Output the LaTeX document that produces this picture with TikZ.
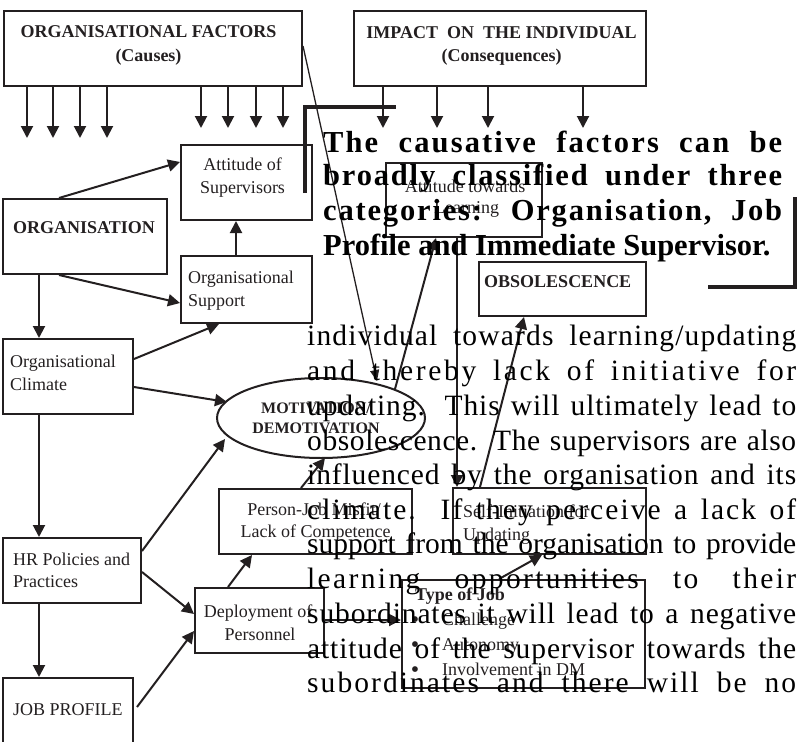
\documentclass[tikz,border=0pt]{standalone}
\usepackage{fontspec}
\setmainfont{Liberation Serif}
\usetikzlibrary{arrows.meta,calc,shapes.geometric}
\definecolor{ink}{HTML}{231F20}
\newcommand{\jl}[2]{\makebox[489pt][s]{\addfontfeature{LetterSpace=#1}#2}}
\newcommand{\jb}[2]{\makebox[459pt][s]{\addfontfeature{LetterSpace=#1}#2}}
\tikzset{
  box/.style={draw=ink, line width=2pt, rectangle, inner sep=0pt},
  arr/.style={draw=ink, line width=2pt, -{Triangle[length=12pt,width=12pt]}},
  thinarr/.style={draw=ink, line width=1.3pt, -{Triangle[length=11pt,width=9pt]}},
  lbl/.style={font=\fontsize{18}{20}\selectfont, inner sep=0pt, text=ink},
  blbl/.style={font=\bfseries\fontsize{18}{20}\selectfont, inner sep=0pt, text=ink},
  bul/.style={font=\fontsize{24}{24}\selectfont, inner sep=0pt, text=ink, anchor=base},
  thickline/.style={draw=ink, line width=4pt},
  bodytxt/.style={anchor=base west, inner sep=0pt, font=\fontsize{29.5}{30}\selectfont},
  boldtxt/.style={anchor=base west, inner sep=0pt, font=\bfseries\fontsize{30.5}{31}\selectfont},
}
\begin{document}
\begin{tikzpicture}[x=1pt,y=-1pt]
\useasboundingbox (0,0) rectangle (799,741);
% boxes
\node[box, minimum width=298pt, minimum height=75pt] (of) at (153,48.5) {};
\node[box, minimum width=292pt, minimum height=75pt] (imp) at (500,48.5) {};
\node[box, minimum width=164pt, minimum height=75pt] (org) at (85,236.5) {};
\node[box, minimum width=131pt, minimum height=75pt] (atsup) at (246.5,182.5) {};
\node[box, minimum width=131pt, minimum height=67pt] (osup) at (246.5,289.5) {};
\node[box, minimum width=130pt, minimum height=75pt] (oclim) at (68,376.5) {};
\node[box, minimum width=138pt, minimum height=65pt] (hr) at (72,570.5) {};
\node[box, minimum width=130pt, minimum height=102pt] (jp) at (68,729) {};
\node[box, minimum width=129pt, minimum height=65pt] (depl) at (259.5,620.5) {};
\node[box, minimum width=193pt, minimum height=65pt] (pjm) at (315.5,521.5) {};
\node[box, minimum width=156pt, minimum height=74pt] (atl) at (464,200) {};
\node[box, minimum width=167pt, minimum height=54pt] (obs) at (562.5,289) {};
\node[box, minimum width=193pt, minimum height=66pt] (sif) at (549.5,521) {};
\node[box, minimum width=243pt, minimum height=108pt] (toj) at (523.5,634) {};
\node[draw=ink, line width=2pt, ellipse, minimum width=208pt, minimum height=80pt, inner sep=0pt] (ell) at (321,418) {};
% labels
\node[blbl, anchor=base] (of-t1) at (148.5,38) {ORGANISATIONAL FACTORS};
\node[blbl, anchor=base] (of-t2) at (148.5,62) {(Causes)};
\node[blbl, anchor=base] (imp-t1) at (501.5,39) {IMPACT\ \ ON\ \ THE INDIVIDUAL};
\node[blbl, anchor=base] (imp-t2) at (501.5,62) {(Consequences)};
\node[blbl, anchor=base west] (org-t) at (13,233) {ORGANISATION};
\node[lbl, anchor=base] (atsup-t1) at (242.5,170) {Attitude of};
\node[lbl, anchor=base] (atsup-t2) at (242.5,193) {Supervisors};
\node[lbl, anchor=base west] (osup-t1) at (188,283) {Organisational};
\node[lbl, anchor=base west] (osup-t2) at (188,306) {Support};
\node[lbl, anchor=base west] (oclim-t1) at (10,367) {Organisational};
\node[lbl, anchor=base west] (oclim-t2) at (10,390) {Climate};
\node[lbl, anchor=base west] (hr-t1) at (13,565) {HR Policies and};
\node[lbl, anchor=base west] (hr-t2) at (13,587) {Practices};
\node[lbl, anchor=base west] (jp-t) at (13,715) {JOB PROFILE};
\node[lbl, anchor=base] (depl-t1) at (258,617) {Deployment of};
\node[lbl, anchor=base] (depl-t2) at (260,640) {Personnel};
\node[lbl, anchor=base] (pjm-t1) at (314,515) {Person-Job Misfit/};
\node[lbl, anchor=base] (pjm-t2) at (315.5,537) {Lack of Competence};
\node[lbl, anchor=base] (atl-t1) at (465,192) {Attitude towards};
\node[lbl, anchor=base] (atl-t2) at (466.5,213) {Learning};
\node[blbl, anchor=base west] (obs-t) at (484,287) {OBSOLESCENCE};
\node[lbl, anchor=base west] (sif-t1) at (463,517) {Self-Initiation for};
\node[lbl, anchor=base west] (sif-t2) at (463,540) {Updating};
\node[inner sep=0pt, text=ink, font=\bfseries\fontsize{16}{18}\selectfont, anchor=base] (ell-t1) at (316,413) {MOTIVATION/};
\node[inner sep=0pt, text=ink, font=\bfseries\fontsize{16}{18}\selectfont, anchor=base] (ell-t2) at (316,433) {DEMOTIVATION};
\node[blbl, anchor=base west] (toj-t) at (415,600) {Type of Job};
\node[bul] (b1) at (415,627) {•};
\node[bul] (b2) at (415,652) {•};
\node[bul] (b3) at (415,677) {•};
\node[lbl, anchor=base west] (toj-1) at (442,625) {Challenge};
\node[lbl, anchor=base west] (toj-2) at (442,650) {Autonomy};
\node[lbl, anchor=base west] (toj-3) at (442,675) {Involvement in DM};
% free arrows
\foreach \x/\n in {27/a1,53/a2,80/a3,107/a4}{\coordinate (\n) at (\x,138); \draw[arr] (of.south -| \n) -- (\n);}
\foreach \x/\n in {201/b1c,228/b2c,256/b3c,283/b4c}{\coordinate (\n) at (\x,128); \draw[arr] (of.south -| \n) -- (\n);}
\foreach \x/\n in {383/c1,437/c2,488/c3,583/c4}{\coordinate (\n) at (\x,128); \draw[arr] (imp.south -| \n) -- (\n);}
% connectors
\draw[arr] ($(org.north west)+(57,0)$) -- ($(atsup.north west)+(0,18)$);
\draw[arr] ($(osup.north west)+(56,0)$) -- ($(atsup.south west)+(56,0)$);
\draw[arr] ($(org.south west)+(57,0)$) -- ($(osup.south west)+(0,-21)$);
\draw[arr] ($(org.south west)+(37,0)$) -- ($(oclim.north west)+(37,0)$);
\draw[arr] ($(oclim.north east)+(0,21)$) -- ($(osup.south west)+(39,0)$);
\draw[arr] ($(oclim.north east)+(0,49)$) -- ($(ell.center)+(-94,-16)$);
\draw[arr] ($(oclim.south west)+(37,0)$) -- ($(hr.north west)+(37,0)$);
\draw[arr] ($(hr.north east)+(0,14)$) -- ($(ell.center)+(-96,21)$);
\draw[arr] ($(hr.north east)+(0,35)$) -- ($(depl.north west)+(0,27)$);
\draw[arr] ($(hr.south west)+(37,0)$) -- ($(jp.north west)+(37,0)$);
\draw[arr] ($(jp.north east)+(3,30)$) -- ($(depl.south west)+(0,-23)$);
\draw[arr] ($(depl.north west)+(34,0)$) -- ($(pjm.south west)+(34,0)$);
\draw[arr] ($(pjm.north west)+(83,0)$) -- ($(ell.center)+(4,40)$);
\draw[arr] ($(depl.north east)+(0,33)$) -- ($(toj.north west)+(0,41)$);
\draw[thinarr] ($(of.north east)+(0,36)$) -- ($(ell.center)+(56,-37)$);
\draw[arr] ($(ell.center)+(74,-29)$) -- ($(atl.south west)+(51,0)$);
\draw[arr] ($(atl.south west)+(72,0)$) -- ($(sif.north west)+(5,0)$);
\draw[arr] ($(sif.north west)+(28,0)$) -- ($(obs.south west)+(46,0)$);
\draw[arr] ($(toj.north west)+(98,0)$) -- ($(sif.south west)+(90,0)$);
% thick frame lines
\draw[thickline] (305,193) -- (305,107) -- (396,107);
\draw[thickline] (795,197) -- (795,287) -- (708,287);
% bold paragraph
\node[boldtxt] (bp1) at (323,152) {\jb{7}{The causative factors can be}};
\node[boldtxt] (bp2) at (323,185) {\jb{6}{broadly classified under three}};
\node[boldtxt] (bp3) at (323,220) {\jb{6}{categories: Organisation, Job}};
\node[boldtxt] (bp4) at (323,255) {Profile and Immediate Supervisor.};
% body paragraph
\node[bodytxt] (p1) at (307,345) {\jl{4}{individual towards learning/updating}};
\node[bodytxt] (p2) at (307,380) {\jl{9}{and thereby lack of initiative for}};
\node[bodytxt] (p3) at (307,415) {\jl{3}{updating. This will ultimately lead to}};
\node[bodytxt] (p4) at (307,450) {\jl{2}{obsolescence. The supervisors are also}};
\node[bodytxt] (p5) at (307,484) {\jl{3}{influenced by the organisation and its}};
\node[bodytxt] (p6) at (307,519) {\jl{7}{climate. If they perceive a lack of}};
\node[bodytxt] (p7) at (307,553) {\jl{0}{support from the organisation to provide}};
\node[bodytxt] (p8) at (307,588) {\jl{8}{learning opportunities to their}};
\node[bodytxt] (p9) at (307,623) {\jl{3}{subordinates it will lead to a negative}};
\node[bodytxt] (p10) at (307,658) {\jl{3}{attitude of the supervisor towards the}};
\node[bodytxt] (p11) at (307,692) {\jl{7}{subordinates and there will be no}};
\end{tikzpicture}
\end{document}
